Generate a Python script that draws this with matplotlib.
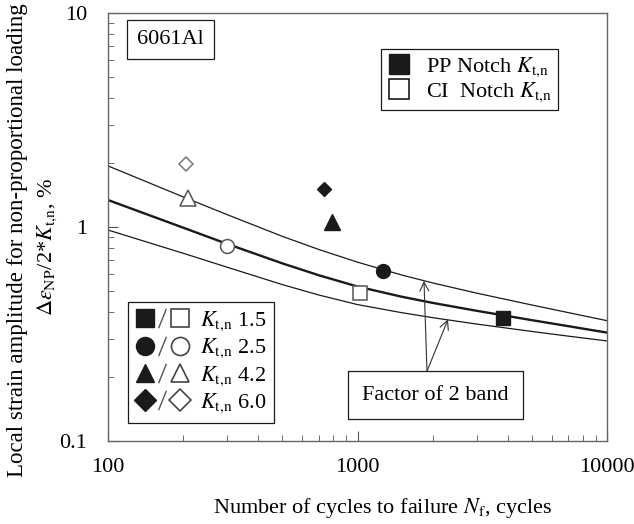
import matplotlib
matplotlib.use('Agg')
import matplotlib.pyplot as plt
from matplotlib.lines import Line2D
from matplotlib.legend_handler import HandlerTuple
from matplotlib.ticker import NullFormatter

plt.rcParams['font.family'] = ['Liberation Serif', 'DejaVu Serif']
plt.rcParams['mathtext.fontset'] = 'stix'

# fitted life curve and factor-of-2 band
curve_cycles = [100, 200, 300, 500, 700, 1000, 1500, 2000, 3000, 5000, 7000, 10000]
band_upper = [1.93, 1.383, 1.143, 0.904, 0.785, 0.685, 0.597, 0.548, 0.491, 0.432, 0.398, 0.365]
curve_mid = [1.337, 0.993, 0.834, 0.676, 0.595, 0.527, 0.4725, 0.442, 0.406, 0.367, 0.344, 0.321]
band_lower = [0.968, 0.754, 0.649, 0.538, 0.481, 0.434, 0.398, 0.377, 0.352, 0.325, 0.309, 0.2935]

# test data, order: Kt,n 1.5, 2.5, 4.2, 6.0
kt_labels = ['1.5', '2.5', '4.2', '6.0']
pp_cycles = [3830, 1265, 791, 734]
pp_strain = [0.376, 0.622, 1.05, 1.51]
ci_cycles = [1024, 300, 209, 205]
ci_strain = [0.492, 0.815, 1.37, 1.97]

markers = ['s', 'o', '^', 'D']
msizes = [10, 10, 11, 7.5]
dark = '#1a1a1a'
grey = '#555555'
KT = r'$K_{\mathrm{t{,}n}}$'
FS = 16

fig = plt.figure(figsize=(6.34, 5.24), dpi=100)
ax = fig.add_axes([108/634, 83/524, 499/634, 428/524])

ax.plot(curve_cycles, band_upper, color=dark, lw=0.9)
ax.plot(curve_cycles, curve_mid, color=dark, lw=1.7)
ax.plot(curve_cycles, band_lower, color=dark, lw=0.9)

for i in range(4):
    ax.plot(pp_cycles[i], pp_strain[i], marker=markers[i], ms=msizes[i], ls='none',
            mfc=dark, mec=dark)
    ax.plot(ci_cycles[i], ci_strain[i], marker=markers[i], ms=msizes[i], ls='none',
            mfc='white', mec=grey if i < 3 else '#777777', mew=1.1)

ax.set_xscale('log')
ax.set_yscale('log')
ax.set_xlim(100, 10000)
ax.set_ylim(0.1, 10)
ax.set_xticks([100, 1000, 10000], labels=['100', '1000', '10000'])
ax.set_yticks([0.1, 1, 10], labels=['0.1', '1', '10'])
ax.xaxis.set_minor_formatter(NullFormatter())
ax.yaxis.set_minor_formatter(NullFormatter())
ax.tick_params(which='both', direction='in', top=False, right=False, labelsize=FS, color=grey)
ax.tick_params(axis='x', which='major', length=7, pad=12)
ax.tick_params(axis='y', which='major', length=7, pad=15)
ax.tick_params(which='minor', length=4.5)
for s in ax.spines.values():
    s.set_color('#666666')
    s.set_linewidth(1.0)

ax.set_xlabel('Number of cycles to failure $N_{\\mathrm{f}}$, cycles', fontsize=FS, va='center')
ax.xaxis.set_label_coords(0.551, -0.157)
fig.text(18/634, 1 - 240/524, 'Local strain amplitude for non-proportional loading',
         rotation=90, ha='center', va='center', fontsize=FS + 0.5)
fig.text(47/634, 1 - 247/524, r'$\Delta\varepsilon_{\mathrm{NP}}$/2*' + KT + ', %',
         rotation=90, ha='center', va='center', fontsize=FS)

ax.text(0.126, 0.937, '6061Al', transform=ax.transAxes, ha='center', va='center', fontsize=FS,
        bbox=dict(boxstyle='square,pad=0.45', fc='white', ec=dark, lw=0.9))

# notch type legend
type_handles = [Line2D([], [], marker='s', ls='none', ms=14, mfc=dark, mec=dark),
                Line2D([], [], marker='s', ls='none', ms=14, mfc='white', mec=dark, mew=1.2)]
leg1 = ax.legend(type_handles, ['PP Notch ' + KT, 'CI  Notch ' + KT],
                 loc='upper right', bbox_to_anchor=(0.902, 0.916), fontsize=FS,
                 frameon=True, fancybox=False, framealpha=1, edgecolor=dark,
                 handlelength=1.0, handletextpad=0.7, labelspacing=0.05,
                 borderpad=0.3, borderaxespad=0)
leg1.get_frame().set_linewidth(0.9)
ax.add_artist(leg1)

# Kt,n legend
slash = [(-0.4, -1), (0.4, 1)]
kt_handles = []
for i in range(4):
    ms = 13 if i < 3 else 11
    kt_handles.append((Line2D([], [], marker=markers[i], ls='none', ms=ms, mfc=dark, mec=dark),
                       Line2D([], [], marker=slash, ls='none', ms=14, mfc='none', mec=grey, mew=1.0),
                       Line2D([], [], marker=markers[i], ls='none', ms=ms, mfc='white',
                              mec='#444444', mew=1.2)))
leg2 = ax.legend(kt_handles, [KT + ' ' + k for k in kt_labels],
                 handler_map={tuple: HandlerTuple(ndivide=None, pad=0)},
                 loc='lower left', bbox_to_anchor=(0.040, 0.042), fontsize=FS,
                 frameon=True, fancybox=False, framealpha=1, edgecolor=dark,
                 handlelength=2.4, handletextpad=0.5, labelspacing=0.18,
                 borderpad=0.35, borderaxespad=0)
leg2.get_frame().set_linewidth(0.9)

# factor of 2 band note
arrow_start = (1899, 0.212)
arrow_up = (1847, 0.56)
arrow_down = (2305, 0.37)
ax.text(2054, 0.164, 'Factor of 2 band', ha='center', va='center', fontsize=FS,
        bbox=dict(boxstyle='square,pad=0.65', fc='white', ec=dark, lw=0.9))
for tip in (arrow_up, arrow_down):
    ax.annotate('', xy=tip, xytext=arrow_start,
                arrowprops=dict(arrowstyle='->', color='#333333', lw=0.8,
                                shrinkA=0, shrinkB=0, mutation_scale=16))

fig.savefig('out.png', dpi=100)
